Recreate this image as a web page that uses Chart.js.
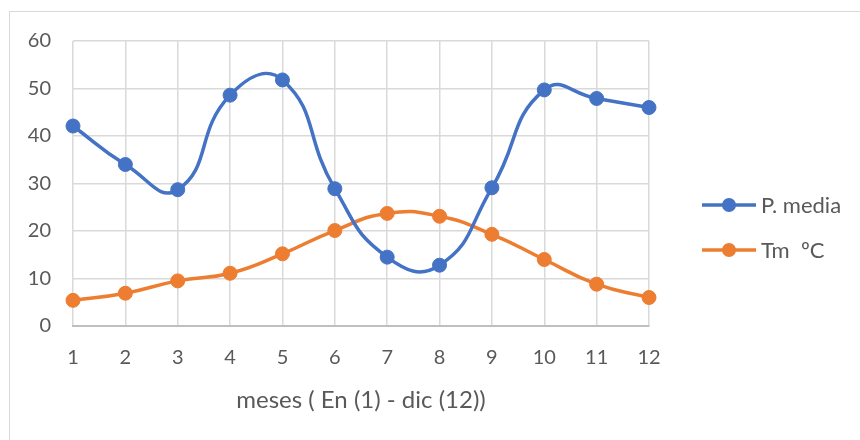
<!DOCTYPE html>
<html>
<head>
<meta charset="utf-8">
<script src="https://cdn.jsdelivr.net/npm/chart.js@4"></script>
<style>
  html, body { margin:0; padding:0; background:#fff; overflow:hidden; width:860px; height:440px; }
  #wrap { position:absolute; left:0; top:0; width:860px; height:440px; }
  #frame { position:absolute; left:9px; top:11px; width:900px; height:500px; border:1px solid #d9d9d9; box-sizing:border-box; pointer-events:none; }
</style>
</head>
<body>
<div id="wrap"><canvas id="c" width="860" height="440"></canvas></div>
<div id="frame"></div>
<script>
const months = ['1','2','3','4','5','6','7','8','9','10','11','12'];
const pMedia = [42.1, 34.0, 28.7, 48.6, 51.8, 28.9, 14.5, 12.8, 29.1, 49.7, 47.9, 46.0];
const tmC = [5.4, 6.9, 9.5, 11.1, 15.2, 20.1, 23.7, 23.1, 19.3, 14.0, 8.8, 6.0];
const yTicks = [0, 10, 20, 30, 40, 50, 60];
const xTitle = 'meses ( En (1) - dic (12))';
const seriesNames = ['P. media', 'Tm  ºC'];

const FONT = 'Lato, "Open Sans", sans-serif';
const TXT = '#595959';

const legendPlugin = {
  id: 'sideLegend',
  afterDraw(chart) {
    const ctx = chart.ctx;
    const ys = [205, 250];
    chart.data.datasets.forEach((ds, i) => {
      const y = ys[i];
      ctx.save();
      ctx.strokeStyle = ds.borderColor;
      ctx.lineWidth = 3.5;
      ctx.beginPath();
      ctx.moveTo(702, y);
      ctx.lineTo(756, y);
      ctx.stroke();
      ctx.fillStyle = ds.pointBackgroundColor;
      ctx.beginPath();
      ctx.arc(729, y, 7, 0, Math.PI * 2);
      ctx.fill();
      ctx.fillStyle = TXT;
      ctx.font = '22px ' + FONT;
      ctx.textBaseline = 'middle';
      ctx.textAlign = 'left';
      ctx.fillText(ds.label, 761, y + 1);
      ctx.restore();
    });
  }
};

new Chart(document.getElementById('c'), {
  type: 'line',
  data: {
    labels: months,
    datasets: [
      { label: seriesNames[0], data: pMedia, borderColor: '#4472C4', backgroundColor: '#4472C4',
        pointBackgroundColor: '#4472C4', pointBorderColor: '#4472C4', borderWidth: 3.5,
        pointRadius: 7, pointBorderWidth: 1, tension: 0.5, fill: false },
      { label: seriesNames[1], data: tmC, borderColor: '#ED7D31', backgroundColor: '#ED7D31',
        pointBackgroundColor: '#ED7D31', pointBorderColor: '#ED7D31', borderWidth: 3.5,
        pointRadius: 7, pointBorderWidth: 1, tension: 0.5, fill: false }
    ]
  },
  options: {
    responsive: false,
    animation: false,
    layout: { padding: { top: 41, left: 0, right: 211, bottom: 0 } },
    plugins: { legend: { display: false }, tooltip: { enabled: false } },
    scales: {
      x: {
        offset: false,
        grid: { color: '#d9d9d9', lineWidth: 1.5, drawTicks: false, offset: false },
        border: { color: '#bfbfbf', width: 2 },
        ticks: { color: TXT, font: { family: FONT, size: 20 }, padding: 20, maxRotation: 0, autoSkip: false },
        title: { display: true, text: xTitle, color: TXT, font: { family: FONT, size: 24 }, padding: { top: 4, bottom: 25 } },
        afterFit(s) { s.height = 114; }
      },
      y: {
        min: 0, max: 60,
        afterBuildTicks(s) { s.ticks = yTicks.map(v => ({ value: v })); },
        grid: { color: '#d9d9d9', lineWidth: 1.5, drawTicks: false },
        border: { display: false },
        ticks: { color: TXT, font: { family: FONT, size: 20 }, padding: 22 },
        afterFit(s) { s.width = 73; }
      }
    }
  },
  plugins: [legendPlugin]
});
</script>
</body>
</html>
